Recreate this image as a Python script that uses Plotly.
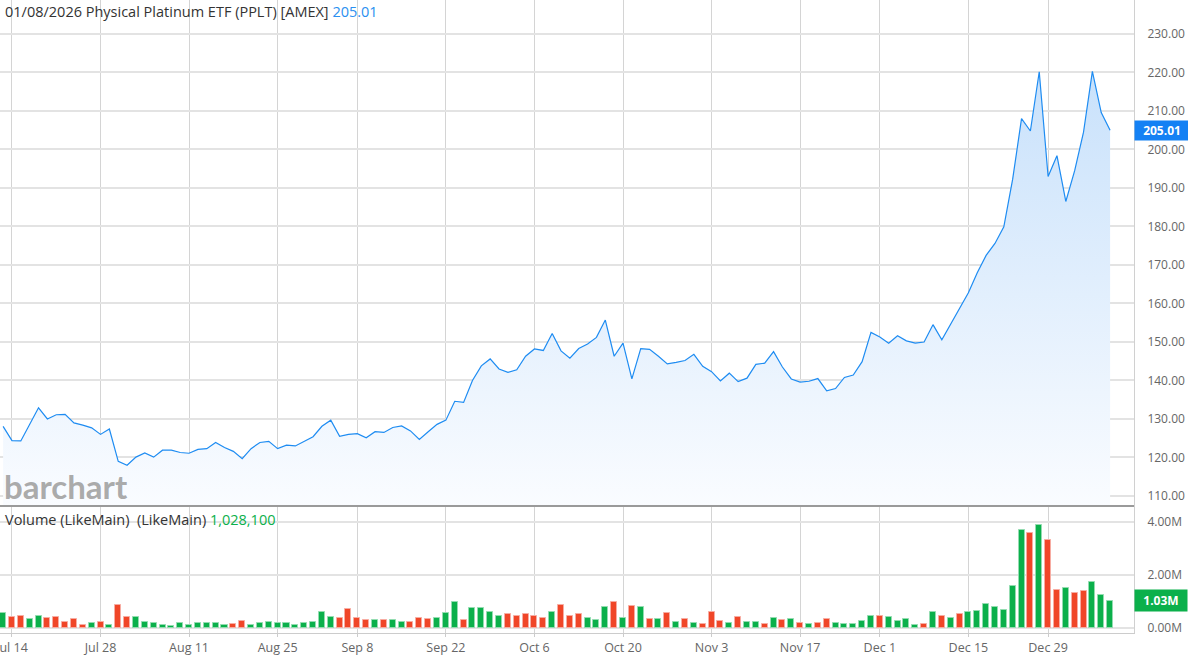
import pandas as pd
import plotly.graph_objects as go

# ---------------- data ----------------
holidays = ["2025-09-01", "2025-11-27", "2025-12-25", "2026-01-01"]
dates = [d.strftime("%Y-%m-%d") for d in
         pd.bdate_range("2025-07-11", "2026-01-08", freq="C", holidays=holidays)]

price = [128.1, 124.4, 124.3, 128.6, 132.9, 130.0, 131.1, 131.2, 129.0, 128.4, 127.7, 126.0, 127.4,
         119.0, 118.0, 120.1, 121.2, 120.1, 121.9, 121.9, 121.3, 121.1, 122.1, 122.3, 123.9, 122.6,
         121.6, 119.7, 122.3, 123.9, 124.2, 122.3, 123.2, 123.0, 124.2, 125.4, 128.1, 129.7, 125.5,
         126.0, 126.2, 125.1, 126.7, 126.5, 127.8,
         128.2, 126.9, 124.7, 126.7, 128.6, 129.7, 134.6, 134.3, 140.0, 143.8, 145.6, 143.0, 142.1,
         142.8, 146.3, 148.2,
         147.8, 152.2, 147.7, 145.8, 148.3, 149.5, 151.2, 155.7, 146.3, 149.7, 140.4, 148.3, 148.1,
         146.3, 144.3, 144.7, 145.2, 146.8, 143.7, 142.3,
         139.9, 141.9, 139.7, 140.6, 144.2, 144.5, 147.5, 143.5, 140.4, 139.6, 139.8, 140.5, 137.3,
         137.9, 140.8, 141.4, 144.9, 152.5, 151.3, 149.7,
         151.6, 150.3, 149.7, 150.0, 154.5, 150.6, 154.6, 158.8, 162.8, 168.0, 172.5, 175.6, 179.9,
         192.3, 208.0, 204.8, 220.2, 193.0, 198.4, 186.5, 194.5, 204.5, 220.3, 209.6, 205.01]

volume_m = [0.55, 0.41, 0.47, 0.32, 0.46, 0.36, 0.42, 0.23, 0.33, 0.13, 0.20, 0.23, 0.10, 0.85,
            0.41, 0.41, 0.23, 0.19, 0.11, 0.09, 0.17, 0.13, 0.18, 0.20, 0.17, 0.11, 0.15, 0.28,
            0.11, 0.17, 0.22, 0.17, 0.18, 0.13, 0.20, 0.23, 0.59, 0.42, 0.36, 0.70, 0.36, 0.31,
            0.31, 0.31, 0.30,
            0.24, 0.22, 0.39, 0.32, 0.36, 0.55, 0.98, 0.29, 0.74, 0.75, 0.60, 0.47, 0.51, 0.46,
            0.51, 0.46, 0.37, 0.59, 0.87, 0.47, 0.54, 0.38, 0.31, 0.78, 0.98, 0.37, 0.82, 0.79,
            0.33, 0.32, 0.55, 0.23, 0.34, 0.20, 0.15, 0.61, 0.27, 0.17, 0.42, 0.22, 0.24, 0.15,
            0.39,
            0.30, 0.35, 0.19, 0.16, 0.19, 0.35, 0.20, 0.14, 0.15, 0.28, 0.47, 0.46, 0.43, 0.27,
            0.35, 0.11, 0.15, 0.59, 0.47, 0.39, 0.54, 0.62, 0.63, 0.89, 0.80, 0.67, 1.57, 3.70,
            3.58, 3.86, 3.29, 1.43, 1.52, 1.32, 1.38, 1.72, 1.25, 1.0281]

# bar direction: g = up (green), r = down (red)
direction = ("g r r g g r r r r r g r g r r g g g g g g g g g g g r r g g g g g g g g g g r r r r g r g "
             "g r r r g g g r g g g g r r r r r g r r r g g g r g r g r g r g r g r r r g r g g r g "
             "r g r g r r g g g g g r g g g g r g r g r g g g g g g g r g r r g r r g g g").split()

tick_dates = ["2025-07-14", "2025-07-28", "2025-08-11", "2025-08-25", "2025-09-08", "2025-09-22",
              "2025-10-06", "2025-10-20", "2025-11-03", "2025-11-17", "2025-12-01", "2025-12-15",
              "2025-12-29"]
tick_labels = ["Jul 14", "Jul 28", "Aug 11", "Aug 25", "Sep 8", "Sep 22", "Oct 6", "Oct 20",
               "Nov 3", "Nov 17", "Dec 1", "Dec 15", "Dec 29"]
price_ticks = list(range(110, 231, 10))
vol_ticks = [0, 2_000_000, 4_000_000]
vol_tick_labels = ["0.00M", "2.00M", "4.00M"]

last_price = price[-1]
last_volume = 1_028_100

# ---------------- styling ----------------
GREEN = "#0bb04b"
RED = "#f04628"
GREEN_EDGE = "#93dcb0"
RED_EDGE = "#f7aca2"
BLUE = "#1e8cf2"
GRID_H = "#e3e3e3"
GRID_V = "#d4d4d4"
FONT = "Open Sans"

volume = [v * 1_000_000 for v in volume_m]
bar_colors = [GREEN if d == "g" else RED for d in direction]
edge_colors = [GREEN_EDGE if d == "g" else RED_EDGE for d in direction]

fig = go.Figure()
fig.add_trace(go.Scatter(
    x=dates, y=price, mode="lines",
    line=dict(color=BLUE, width=1.2),
    fill="tozeroy",
    fillgradient=dict(type="vertical",
                      colorscale=[[0, "rgba(250,252,255,1)"], [1, "rgba(200,225,251,1)"]],
                      start=107, stop=222),
    xaxis="x", yaxis="y", hoverinfo="skip", showlegend=False,
))
fig.add_trace(go.Bar(
    x=dates, y=volume, width=0.68,
    marker=dict(color=bar_colors, line=dict(color=edge_colors, width=1)),
    xaxis="x", yaxis="y2", hoverinfo="skip", showlegend=False,
))

split = (633 - 506) / 633

fig.update_layout(
    width=1188, height=661,
    margin=dict(l=0, r=54, t=0, b=28, autoexpand=False),
    paper_bgcolor="white", plot_bgcolor="white",
    font=dict(family=FONT, size=12, color="#666"),
    bargap=0,
    xaxis=dict(
        type="category", anchor="y2", domain=[0, 1],
        range=[-0.35, 127.7], automargin=False,
        tickmode="array", tickvals=tick_dates, ticktext=tick_labels,
        showgrid=True, gridcolor=GRID_V, gridwidth=1,
        ticks="outside", ticklen=3, tickcolor="#cccccc",
        showline=True, linecolor="#cccccc", linewidth=1,
        tickfont=dict(size=12.5, color="#666"),
        zeroline=False,
    ),
    yaxis=dict(
        domain=[split, 1], anchor="x", side="right", automargin=False,
        range=[107.4, 238.83],
        tickmode="array", tickvals=price_ticks,
        ticktext=[f"{v:.2f}" for v in price_ticks],
        showgrid=True, gridcolor=GRID_H, gridwidth=1.5,
        ticks="outside", ticklen=10, tickcolor="rgba(0,0,0,0)",
        showline=True, linecolor="#d0d0d0", linewidth=1,
        tickfont=dict(size=12, color="#666"),
        zeroline=False,
    ),
    yaxis2=dict(
        domain=[0, split], anchor="x", side="right", automargin=False,
        range=[-188_000, 4_586_000],
        tickmode="array", tickvals=vol_ticks, ticktext=vol_tick_labels,
        showgrid=True, gridcolor=GRID_H, gridwidth=1.5,
        ticks="outside", ticklen=10, tickcolor="rgba(0,0,0,0)",
        showline=True, linecolor="#d0d0d0", linewidth=1,
        tickfont=dict(size=12, color="#666"),
        zeroline=False,
    ),
    shapes=[dict(type="line", xref="paper", yref="paper", x0=0, x1=1, y0=split, y1=split,
                 line=dict(color="#9a9a9a", width=2))],
    annotations=[
        dict(xref="paper", yref="paper", x=0, y=1, xanchor="left", yanchor="top",
             xshift=3, yshift=0, showarrow=False, align="left",
             text=f"01/08/2026 Physical Platinum ETF (PPLT) [AMEX] "
                  f"<span style='color:#2a8ff0'>{last_price:.2f}</span>",
             font=dict(family=FONT, size=14.5, color="#333")),
        dict(xref="paper", yref="y", x=0, y=112.6, xanchor="left", yanchor="middle",
             xshift=2, showarrow=False, text="<b>barchart</b>",
             font=dict(family="Lato", size=33, color="rgba(160,160,160,0.9)")),
        dict(xref="paper", yref="paper", x=0, y=split, xanchor="left", yanchor="top",
             xshift=3, yshift=-2, showarrow=False, align="left",
             text=f"Volume (LikeMain) &nbsp;(LikeMain) "
                  f"<span style='color:{GREEN}'>{last_volume:,}</span>",
             font=dict(family=FONT, size=14.5, color="#333")),
        dict(xref="paper", yref="y", x=1, y=last_price, xanchor="left", yanchor="middle",
             showarrow=False, text=f"<b>{last_price:.2f}</b>",
             bgcolor="#1481f4", width=50, height=15, borderpad=2, align="center",
             font=dict(family=FONT, size=12, color="white")),
        dict(xref="paper", yref="y2", x=1, y=last_volume, xanchor="left", yanchor="middle",
             showarrow=False, text=f"<b>{last_volume / 1e6:.2f}M</b>",
             bgcolor=GREEN, width=48, height=17, borderpad=2, align="center",
             font=dict(family=FONT, size=12, color="white")),
    ],
)

fig.write_html("out.html",
               config={"displayModeBar": False},
               post_script="document.body.style.margin='0px';document.body.style.padding='0px';")
